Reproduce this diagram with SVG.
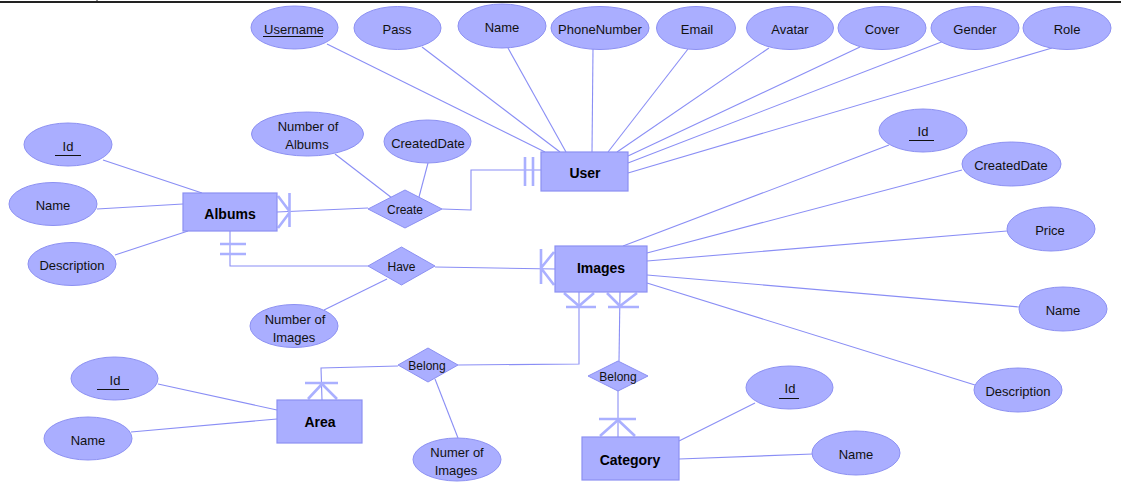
<svg xmlns="http://www.w3.org/2000/svg" width="1121" height="495" viewBox="0 0 1121 495">
<style>
.at{fill:#aaaeff;stroke:#8c90f2;stroke-width:1}
.en{fill:#aaaeff;stroke:#8c90f2;stroke-width:1.2}
.rel{fill:#aaaeff;stroke:#8c90f2;stroke-width:1}
.ln{fill:none;stroke:#8a8ef5;stroke-width:1.1}
.cf{fill:none;stroke:#aab0ff;stroke-width:2.6}
.t{font-family:"Liberation Sans",Arial,sans-serif;font-size:13px;fill:#111;text-anchor:middle}
.tb{font-family:"Liberation Sans",Arial,sans-serif;font-size:14px;font-weight:bold;fill:#000;text-anchor:middle}
.tr{font-family:"Liberation Sans",Arial,sans-serif;font-size:12px;fill:#111;text-anchor:middle}
.ul{stroke:#111;stroke-width:1}
</style>
<rect x="0" y="1" width="1121" height="2" fill="#222"/>
<line x1="97" y1="0" x2="97" y2="3" stroke="#222" stroke-width="1"/>

<g id="connectors">
<!-- User attributes -->
<line class="ln" x1="327" y1="44" x2="545" y2="152"/>
<line class="ln" x1="422" y1="47" x2="560" y2="152"/>
<line class="ln" x1="508" y1="48" x2="566" y2="152"/>
<line class="ln" x1="593" y1="49" x2="592" y2="152"/>
<line class="ln" x1="688" y1="49" x2="608" y2="152"/>
<line class="ln" x1="769" y1="48" x2="617" y2="152"/>
<line class="ln" x1="860" y1="47" x2="628" y2="156"/>
<line class="ln" x1="944" y1="41" x2="628" y2="163"/>
<line class="ln" x1="1052" y1="48" x2="628" y2="173"/>
<!-- Albums attributes -->
<line class="ln" x1="103" y1="160" x2="202" y2="193"/>
<line class="ln" x1="97" y1="209" x2="183" y2="204"/>
<line class="ln" x1="115" y1="255" x2="188" y2="231"/>
<!-- Create -->
<line class="ln" x1="277" y1="212" x2="368" y2="208"/>
<polyline class="ln" points="442,209 471,210 471,170 541,170"/>
<line class="ln" x1="335" y1="154" x2="392" y2="198"/>
<line class="ln" x1="428" y1="163" x2="419" y2="197"/>
<!-- Have -->
<polyline class="ln" points="230,231 230,266 368,266"/>
<line class="ln" x1="435" y1="267" x2="555" y2="269"/>
<line class="ln" x1="324" y1="310" x2="387" y2="279"/>
<!-- Images attributes -->
<line class="ln" x1="889" y1="145" x2="623" y2="246"/>
<line class="ln" x1="962" y1="170" x2="647" y2="253"/>
<line class="ln" x1="1007" y1="231" x2="647" y2="261"/>
<line class="ln" x1="1019" y1="307" x2="647" y2="275"/>
<line class="ln" x1="975" y1="385" x2="647" y2="283"/>
<!-- Belong Area -->
<polyline class="ln" points="579,292 579,364 458,365"/>
<polyline class="ln" points="398,366 321,368 322,400"/>
<line class="ln" x1="435" y1="379" x2="458" y2="438"/>
<!-- Belong Category -->
<line class="ln" x1="620" y1="292" x2="619" y2="361"/>
<line class="ln" x1="618" y1="390" x2="618" y2="437"/>
<!-- Area attributes -->
<line class="ln" x1="158" y1="384" x2="277" y2="410"/>
<line class="ln" x1="131" y1="432" x2="277" y2="419"/>
<!-- Category attributes -->
<line class="ln" x1="755" y1="403" x2="679" y2="441"/>
<line class="ln" x1="813" y1="454" x2="679" y2="459"/>
<!-- cardinality marks -->
<path class="cf" d="M289.5,193 V227 M278,196 L290,212 M278,228 L290,212"/>
<path class="cf" d="M525,157 V186 M533,157 V186"/>
<path class="cf" d="M220,244 H246 M220,254 H246"/>
<path class="cf" d="M541,249 V284 M554,252 L541,268 M554,285 L541,268"/>
<path class="cf" d="M566,307 H596 M564,293 L579,306 M594,293 L579,306"/>
<path class="cf" d="M608,307 H639 M607,293 L620,306 M637,293 L620,306"/>
<path class="cf" d="M305,383 H338 M308,399 L322,384 M337,399 L322,384"/>
<path class="cf" d="M599,419 H636 M600,436 L618,420 M635,436 L618,420"/>
</g>

<g id="user"><rect class="en" x="541" y="152" width="87" height="39"/><text class="tb" x="585" y="178">User</text></g>
<g id="albums"><rect class="en" x="183" y="193" width="94" height="38"/><text class="tb" x="230" y="219">Albums</text></g>
<g id="images"><rect class="en" x="555" y="246" width="92" height="46"/><text class="tb" x="601" y="273">Images</text></g>
<g id="area"><rect class="en" x="277" y="400" width="85" height="43"/><text class="tb" x="320" y="427">Area</text></g>
<g id="category"><rect class="en" x="582" y="437" width="97" height="43"/><text class="tb" x="630" y="465">Category</text></g>

<g id="create"><polygon class="rel" points="368,209 405,190 442,209 405,228"/><text class="tr" x="405" y="214">Create</text></g>
<g id="have"><polygon class="rel" points="368,266 401.5,247 435,266 401.5,285"/><text class="tr" x="401.5" y="271">Have</text></g>
<g id="belong-area"><polygon class="rel" points="398,365 428,348 458,365 428,382"/><text class="tr" x="427" y="370">Belong</text></g>
<g id="belong-category"><polygon class="rel" points="588,376 618,361 648,376 618,391"/><text class="tr" x="618" y="381">Belong</text></g>

<g id="user-username"><ellipse class="at" cx="294.5" cy="27.5" rx="43.5" ry="21.5"/><text class="t" x="294" y="34">Username</text><line class="ul" x1="263" y1="36.5" x2="323" y2="36.5"/></g>
<g id="user-pass"><ellipse class="at" cx="397.5" cy="28" rx="43.5" ry="21.5"/><text class="t" x="397" y="34">Pass</text></g>
<g id="user-name"><ellipse class="at" cx="502" cy="26" rx="44" ry="22"/><text class="t" x="502" y="32">Name</text></g>
<g id="user-phone"><ellipse class="at" cx="600" cy="28" rx="49" ry="21.5"/><text class="t" x="600" y="34">PhoneNumber</text></g>
<g id="user-email"><ellipse class="at" cx="696" cy="28" rx="39.5" ry="21.5"/><text class="t" x="697" y="34">Email</text></g>
<g id="user-avatar"><ellipse class="at" cx="790" cy="28" rx="43.5" ry="21.5"/><text class="t" x="790" y="34">Avatar</text></g>
<g id="user-cover"><ellipse class="at" cx="882" cy="28" rx="44" ry="21.5"/><text class="t" x="882" y="34">Cover</text></g>
<g id="user-gender"><ellipse class="at" cx="975" cy="28" rx="44" ry="21.5"/><text class="t" x="975" y="34">Gender</text></g>
<g id="user-role"><ellipse class="at" cx="1067" cy="28" rx="44" ry="21.5"/><text class="t" x="1067" y="34">Role</text></g>

<g id="albums-id"><ellipse class="at" cx="68" cy="144.5" rx="44" ry="21.5"/><text class="t" x="68" y="151">Id</text><line class="ul" x1="55" y1="155.5" x2="81" y2="155.5"/></g>
<g id="albums-name"><ellipse class="at" cx="53" cy="204" rx="44" ry="21.5"/><text class="t" x="53" y="210">Name</text></g>
<g id="albums-description"><ellipse class="at" cx="72" cy="264" rx="44" ry="21.5"/><text class="t" x="72" y="270">Description</text></g>

<g id="create-number"><ellipse class="at" cx="307.5" cy="134" rx="56" ry="22"/><text class="t" x="308" y="131">Number of</text><text class="t" x="307" y="149">Albums</text></g>
<g id="create-date"><ellipse class="at" cx="427.5" cy="141.5" rx="43.5" ry="21.5"/><text class="t" x="428" y="148">CreatedDate</text></g>
<g id="have-number"><ellipse class="at" cx="294" cy="326" rx="44" ry="21.5"/><text class="t" x="295" y="324">Number of</text><text class="t" x="294" y="342">Images</text></g>

<g id="images-id"><ellipse class="at" cx="923" cy="130.5" rx="44" ry="21.5"/><text class="t" x="923" y="136">Id</text><line class="ul" x1="909" y1="140.5" x2="934" y2="140.5"/></g>
<g id="images-date"><ellipse class="at" cx="1011.5" cy="164" rx="49.5" ry="22"/><text class="t" x="1011" y="170">CreatedDate</text></g>
<g id="images-price"><ellipse class="at" cx="1051" cy="229" rx="44" ry="22"/><text class="t" x="1050" y="235">Price</text></g>
<g id="images-name"><ellipse class="at" cx="1063" cy="309" rx="44" ry="22"/><text class="t" x="1063" y="315">Name</text></g>
<g id="images-description"><ellipse class="at" cx="1018" cy="390" rx="44" ry="22"/><text class="t" x="1018" y="396">Description</text></g>

<g id="area-id"><ellipse class="at" cx="114.5" cy="378.5" rx="43.5" ry="21.5"/><text class="t" x="115" y="385">Id</text><line class="ul" x1="97" y1="389.5" x2="129" y2="389.5"/></g>
<g id="area-name"><ellipse class="at" cx="88" cy="438.5" rx="44" ry="21.5"/><text class="t" x="88" y="445">Name</text></g>
<g id="belong-number"><ellipse class="at" cx="457" cy="459.5" rx="44" ry="21.5"/><text class="t" x="457" y="457">Numer of</text><text class="t" x="456" y="475">Images</text></g>

<g id="category-id"><ellipse class="at" cx="789.5" cy="387.5" rx="43.5" ry="21.5"/><text class="t" x="790" y="393">Id</text><line class="ul" x1="779" y1="398.5" x2="799" y2="398.5"/></g>
<g id="category-name"><ellipse class="at" cx="856" cy="453" rx="44" ry="22"/><text class="t" x="856" y="459">Name</text></g>
</svg>
